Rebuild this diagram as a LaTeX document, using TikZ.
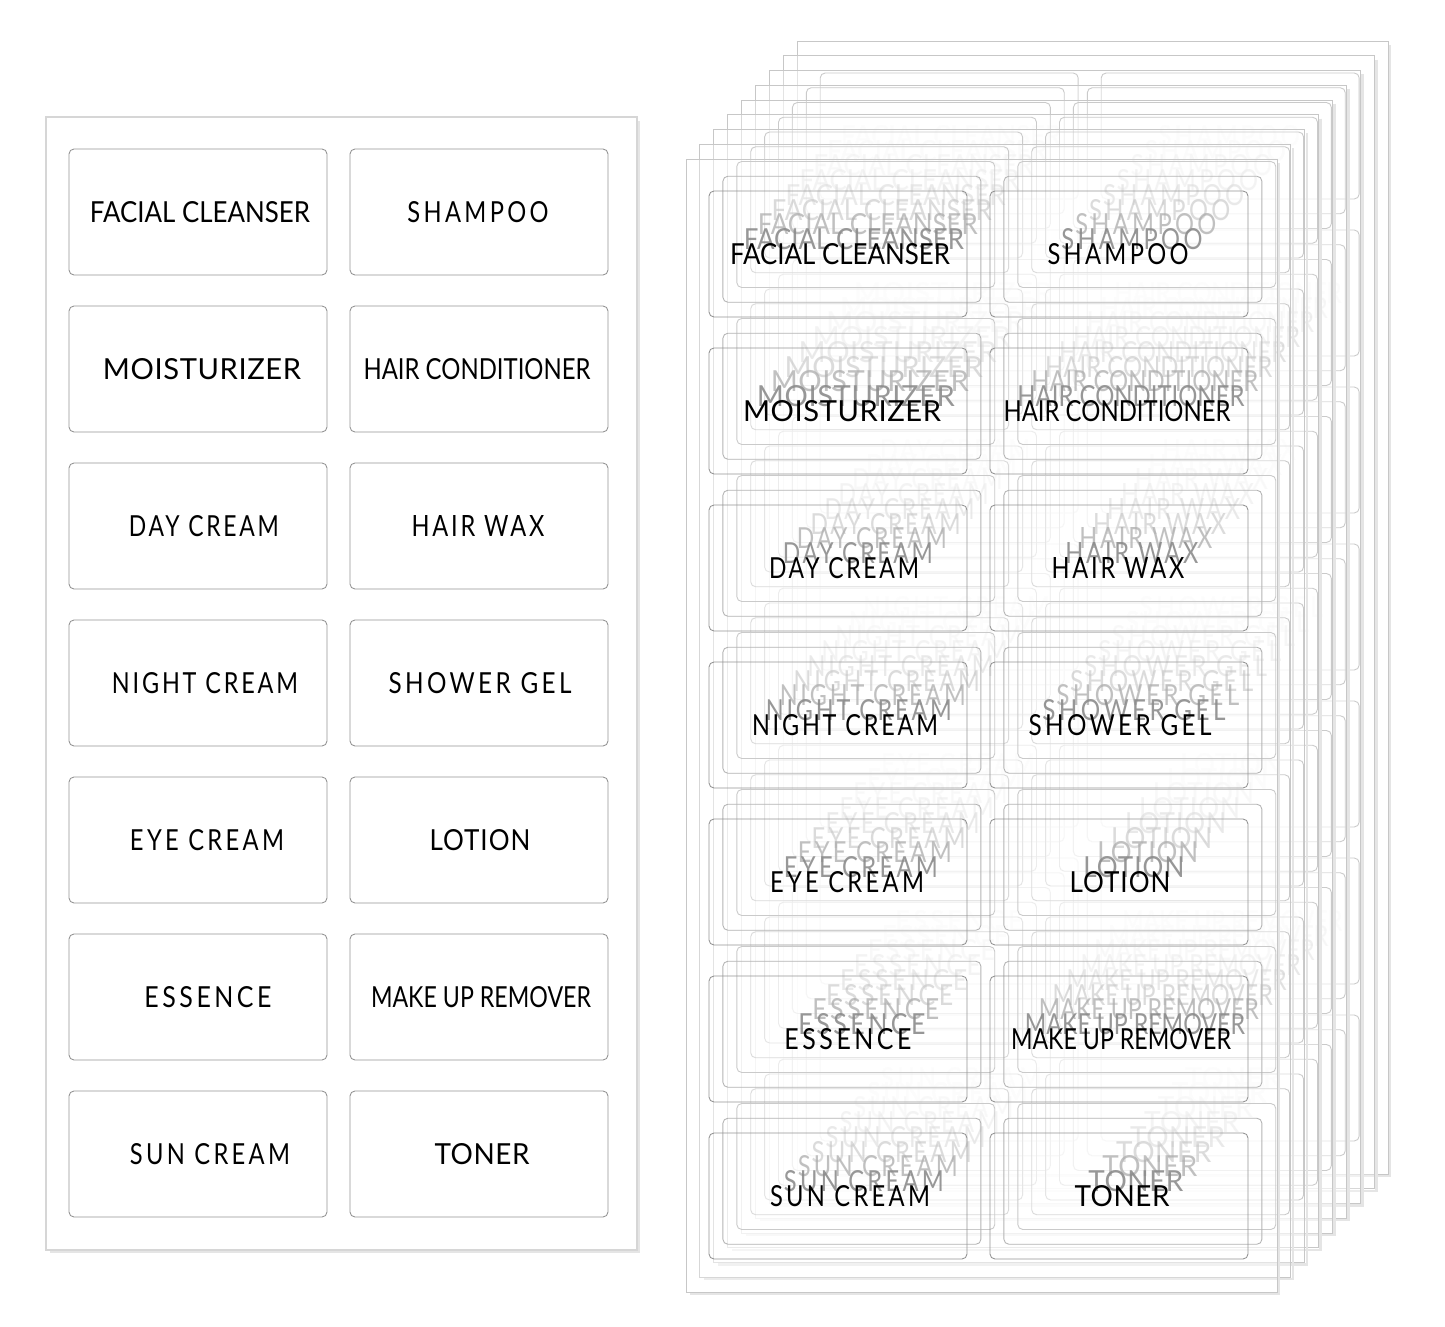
\documentclass[tikz,border=0pt]{standalone}
\usepackage{fontspec}
\setmainfont{Lato}
\usepackage{graphicx}
\usetikzlibrary{positioning,calc}

% one sheet of 14 labels, origin at its top left corner
\newcommand\labelsheet[5]{%
	\foreach \txt/\tw/\ls/\dx [count=\i from 0] in \labellist {
		\pgfmathtruncatemacro\col{mod(\i,2)}
		\pgfmathtruncatemacro\row{div(\i,2)}
		\pgfmathsetlengthmacro\twl{\tw*0.02cm}
		\node[labelbox] (#3-\i) at ({#1+152+281*\col},{#2+95+157*\row}) {};
		\node[labeltext, text=#4, text opacity=#5] (#3-t\i) at ($(#3-\i.center)+(\dx,0)$)
			{\resizebox{\twl}{0.42cm}{\addfontfeature{LetterSpace=\ls}\txt}};
	}%
}

\begin{document}
\begin{tikzpicture}[x=0.02cm,y=-0.02cm]
	\def\W{591}
	\def\H{1133}
	\def\labellist{FACIAL CLEANSER/220/0/2, SHAMPOO/141/14/-1,
		MOISTURIZER/198/2/4, HAIR CONDITIONER/227/0/-2,
		DAY CREAM/150/12/6, HAIR WAX/133/12/-1,
		NIGHT CREAM/186/12/7, SHOWER GEL/183/14/1,
		EYE CREAM/154/14/9, LOTION/101/4/1,
		ESSENCE/127/14/10, MAKE UP REMOVER/220/0/2,
		SUN CREAM/160/14/12, TONER/95/2/3}
	\tikzset{
		paper/.style={draw=black!16, line width=0.6pt, fill=white},
		clearpaper/.style={draw=black!22, line width=0.5pt, fill=white, fill opacity=0.3},
		shadow/.style={draw=black!10, line width=1.4pt},
		labelbox/.style={draw=black!42, line width=0.5pt, rounded corners=2.8pt,
			minimum width=5.16cm, minimum height=2.52cm, inner sep=0pt},
		labeltext/.style={inner sep=0pt}
	}
	\useasboundingbox (0,0) rectangle (1445,1327);

	% plain sheet
	\draw[shadow] (\W+48,121) -- (\W+48,\H+119) -- (50,\H+119);
	\draw[paper] (46,117) rectangle ++(\W,\H);
	\labelsheet{46}{117}{L}{black}{1}

	% stack of clear sheets, back to front
	\foreach \k in {8,...,0} {
		\pgfmathsetmacro\ox{686+13.9*\k}
		\pgfmathsetmacro\oy{159-14.75*\k}
		\pgfmathsetmacro\op{max(0.05,1-0.125*\k)}
		\def\tc{black!66}
		\ifnum\k=0 \def\tc{black}\fi
		\draw[shadow] (\ox+\W+2,\oy+4) -- (\ox+\W+2,\oy+\H+2) -- (\ox+4,\oy+\H+2);
		\draw[clearpaper] (\ox,\oy) rectangle ++(\W,\H);
		\labelsheet{\ox}{\oy}{S\k}{\tc}{\op}
	}
\end{tikzpicture}
\end{document}
